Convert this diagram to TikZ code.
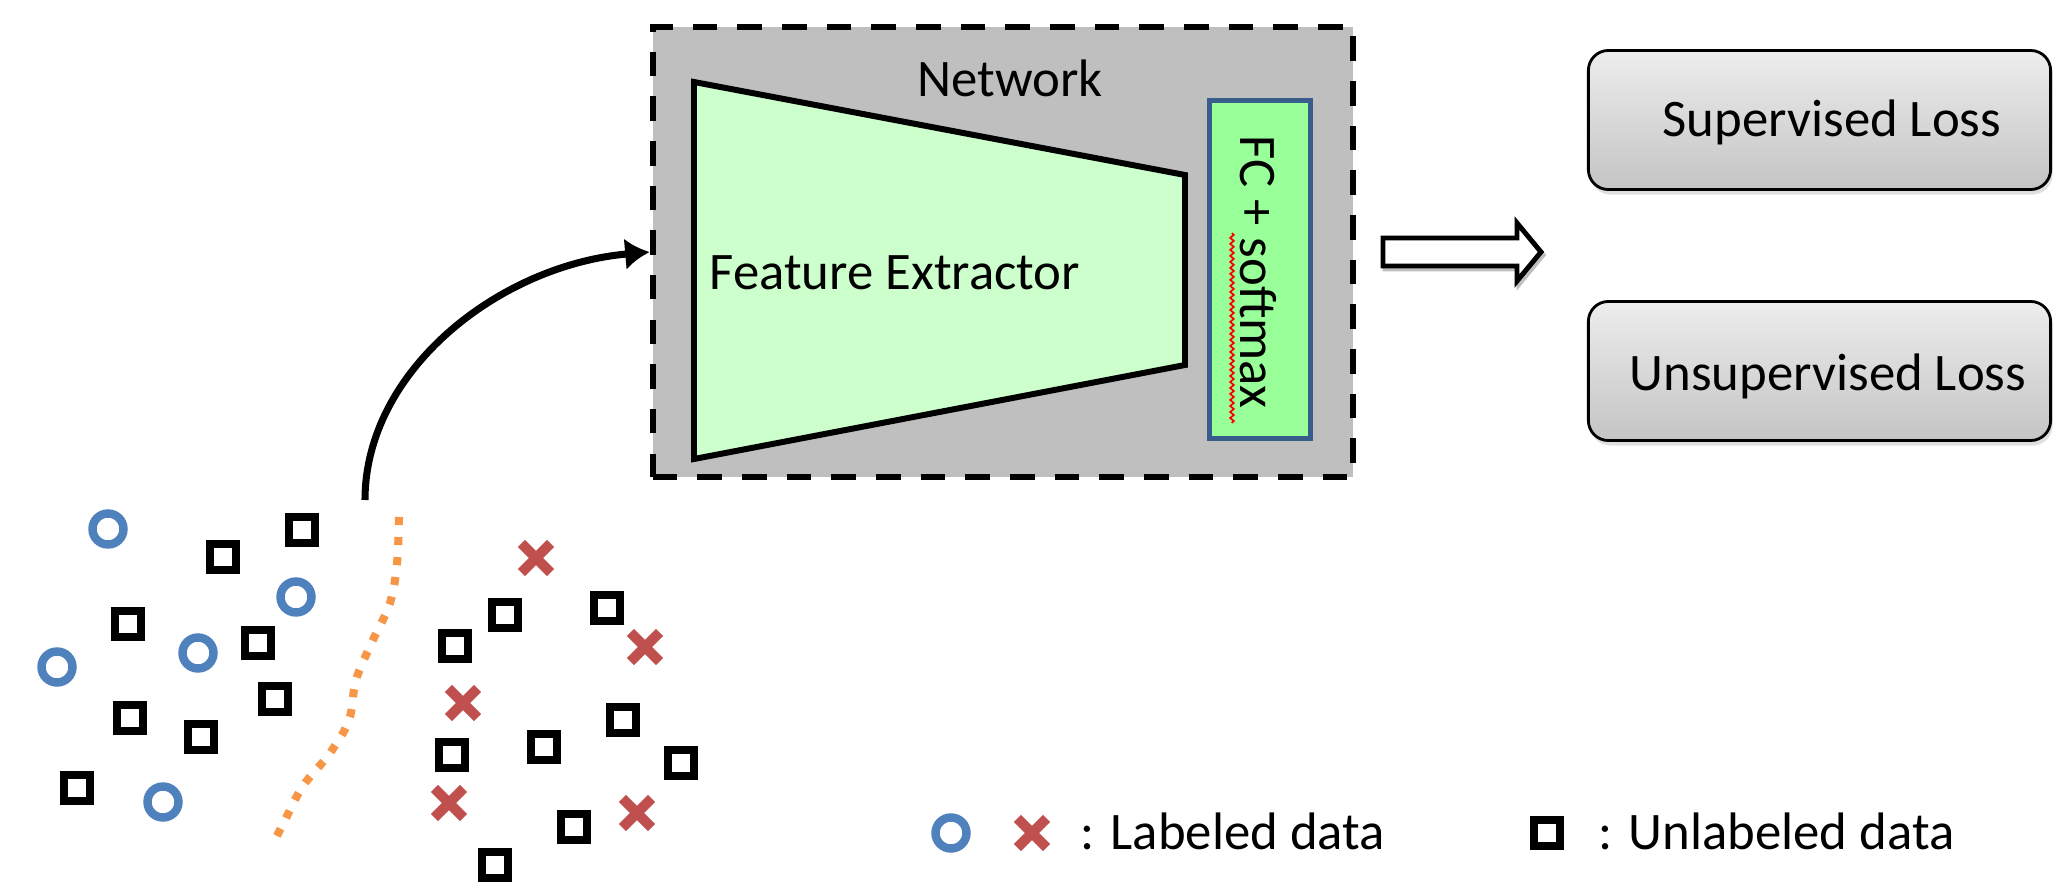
\documentclass[tikz,border=0pt]{standalone}
\usepackage{fontspec}
\setmainfont{Carlito}
\usetikzlibrary{arrows.meta,shapes.misc,shadows,decorations.pathmorphing}
\definecolor{netgray}{HTML}{BFBFBF}
\definecolor{fegreen}{HTML}{CCFFCC}
\definecolor{fcgreen}{HTML}{99FF99}
\definecolor{fcblue}{HTML}{385D8A}
\definecolor{ptblue}{HTML}{4F81BD}
\definecolor{ptred}{HTML}{C0504D}
\definecolor{sepor}{HTML}{F79646}
\definecolor{losstop}{HTML}{EDEDED}
\definecolor{lossbot}{HTML}{C4C4C4}
\begin{document}
\begin{tikzpicture}[x=0.01cm,y=-0.01cm,
  lbl/.style={font=\fontsize{15}{18}\selectfont, inner sep=0pt, anchor=base},
  ptc/.style={circle, draw=ptblue, line width=2.4pt, minimum size=0.31cm, inner sep=0pt},
  pts/.style={rectangle, draw=black, fill=white, line width=2.5pt, minimum size=0.26cm, inner sep=0pt,
              drop shadow={shadow xshift=0pt, shadow yshift=-0.03cm, opacity=0.3}},
  ptx/.style={cross out, draw=ptred, line width=2.9pt, minimum size=0.19cm, inner sep=0pt},
  netbox/.style={rectangle, fill=netgray, draw=black, line width=1.7pt,
                 dash pattern=on 7pt off 5.7pt, minimum width=7.00cm, minimum height=4.50cm},
  fcbox/.style={rectangle, fill=fcgreen, draw=fcblue, line width=1.4pt,
                minimum width=1.01cm, minimum height=3.38cm},
  lossbox/.style={rectangle, rounded corners=0.2cm, draw=black, line width=0.8pt,
                  top color=losstop, bottom color=lossbot,
                  minimum width=4.62cm, minimum height=1.39cm,
                  drop shadow={shadow xshift=0.02cm, shadow yshift=-0.05cm, opacity=0.25}},
  feedarrow/.style={line width=2pt, -{Latex[length=7pt,width=9pt]}},
  sepline/.style={draw=sepor, line width=2.3pt, dash pattern=on 2.3pt off 3.4pt}
]
\useasboundingbox (0,0) rectangle (2053,891);

% network block
\node[netbox] (net) at (1003,252) {};
\draw[fill=fegreen, line width=1.7pt, line join=miter] (694,82) -- (1185,175) -- (1185,365) -- (694,459) -- cycle;
\node[fcbox] (fc) at (1260,269.5) {};
\node[lbl] (netlbl) at (1010,97) {Network};
\node[lbl, anchor=base west] (felbl) at (709,290) {Feature Extractor};
\node[lbl, rotate=-90] (fclbl) at (1240,272) {FC + softmax};
\draw[red, line width=0.5pt, decorate, decoration={snake, amplitude=0.018cm, segment length=0.06cm}] (1232,233) -- (1232,423);

% hollow arrow
\draw[netgray, line width=1.4pt, fill=netgray] (1385,241) -- (1519,241) -- (1519,226) -- (1543,255) -- (1519,284) -- (1519,269) -- (1385,269) -- cycle;
\draw[black, line width=1.4pt, fill=white, line join=miter] (1383,238) -- (1517,238) -- (1517,223) -- (1541,252) -- (1517,281) -- (1517,266) -- (1383,266) -- cycle;

% losses
\node[lossbox] (sup) at (1819.5,120) {};
\node[lbl] (suplbl) at (1832,137) {Supervised Loss};
\node[lossbox] (uns) at (1819.5,371) {};
\node[lbl] (unslbl) at (1828,390) {Unsupervised Loss};

% separator
\draw[sepline] plot[smooth, tension=0.6] coordinates {(399,517) (397,563) (390,603) (372,642) (356,680) (349,720) (330,753) (303,786) (284,822) (272,846)};

% data points
\node[ptc] (c1) at (108,529) {};
\node[ptc] (c2) at (296,597) {};
\node[ptc] (c3) at (57,667) {};
\node[ptc] (c4) at (198,653) {};
\node[ptc] (c5) at (163,802) {};

\node[pts] (s1) at (302,530) {};
\node[pts] (s2) at (223,557) {};
\node[pts] (s3) at (128,624) {};
\node[pts] (s4) at (258,643) {};
\node[pts] (s5) at (275,699) {};
\node[pts] (s6) at (130,718) {};
\node[pts] (s7) at (201,737) {};
\node[pts] (s8) at (77,788) {};
\node[pts] (s9) at (505,615) {};
\node[pts] (s10) at (607,608) {};
\node[pts] (s11) at (455,646) {};
\node[pts] (s12) at (623,720) {};
\node[pts] (s13) at (544,747) {};
\node[pts] (s14) at (452,755) {};
\node[pts] (s15) at (681,763) {};
\node[pts] (s16) at (574,827) {};
\node[pts] (s17) at (495,865) {};

\node[ptx] (x1) at (536,558) {};
\node[ptx] (x2) at (645,647) {};
\node[ptx] (x3) at (463,703) {};
\node[ptx] (x4) at (449,803) {};
\node[ptx] (x5) at (637,813) {};

% input arrow
\coordinate (src) at (365,500);
\draw[feedarrow] (src) .. controls (365,370) and (500,265) .. (net.west);

% legend
\node[ptc] (lc) at (951,833) {};
\node[ptx] (lx) at (1032,833) {};
\node[lbl, anchor=base west] (llbl) at (1080,850) {: Labeled data};
\node[pts] (ls) at (1547,833) {};
\node[lbl, anchor=base west] (lulbl) at (1598,850) {: Unlabeled data};
\end{tikzpicture}
\end{document}
